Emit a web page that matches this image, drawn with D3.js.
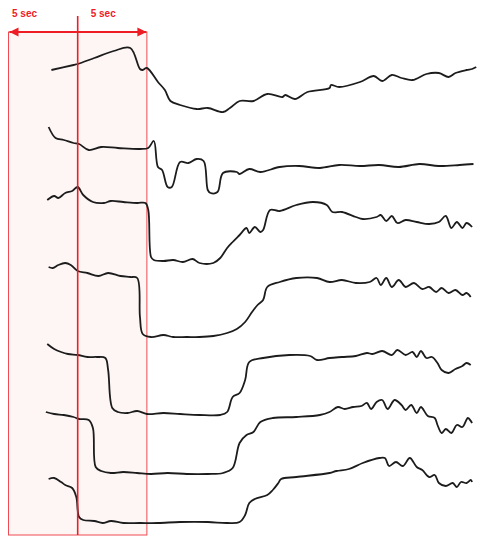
<!DOCTYPE html>
<html>
<head>
<meta charset="utf-8">
<script src="https://cdn.jsdelivr.net/npm/d3@7"></script>
<style>
  body { margin: 0; background: #fff; }
  svg { display: block; }
</style>
</head>
<body>
<div id="chart"></div>
<script>
// ---- DATA --------------------------------------------------------
// time in seconds (0 = red line), amplitude in arbitrary units above each trace's low level

var trace1 = [[-1.9,42],[-0.3,47],[0,48],[1.2,54],[2.6,61],[3.8,64],[4.5,43],[4.7,42],[5.0,44],[5.8,30],[6.3,22],[6.7,11],[7.4,7],[8.6,3],[9.4,4],[10.5,0],[11.0,4],[11.7,11],[12.7,11],[13.7,18],[14.8,15],[15.0,17],[15.7,13],[16.6,20],[18.2,24],[18.3,27],[18.9,25],[20.4,30],[21.4,36],[22.0,31],[22.7,37],[23.4,34],[24.2,32],[25.2,38],[26.1,39],[26.8,35],[27.3,39],[28.1,42],[28.5,43],[28.8,45]];

var trace2 = [[-2.1,66],[-1.6,55],[-1.0,53],[-0.3,50],[0.1,49],[0.8,43],[1.7,46],[2.9,45],[4.5,44],[5.1,45],[5.5,52],[5.8,26],[6.1,23],[6.5,6],[6.8,6],[7.4,31],[8.0,30],[8.6,34],[9.1,32],[9.4,3],[9.6,0],[10.1,1],[10.5,20],[11.5,21],[11.7,19],[12.4,24],[13.2,21],[14.6,26],[16.0,27],[17.5,25],[18.9,28],[20.4,27],[21.8,28],[23.2,26],[24.7,29],[26.1,27],[27.6,28],[28.6,29]];

var trace3 = [[-2.2,63],[-1.7,67],[-1.4,65],[-0.9,70],[-0.4,72],[0,76],[0.4,68],[1.1,61],[1.9,60],[2.4,62],[3.3,61],[4.3,60],[4.9,60],[5.1,53],[5.3,6],[5.5,3],[6.2,2],[6.9,3],[7.6,1],[8.3,4],[8.8,0],[9.8,0],[10.3,5],[10.8,15],[11.2,21],[11.7,28],[12.2,35],[12.4,30],[12.8,36],[13.2,31],[13.4,33],[13.9,53],[14.6,52],[15.8,58],[17.0,61],[18.0,58],[18.4,51],[19.1,51],[20.1,46],[20.6,44],[21.6,46],[21.9,48],[22.3,42],[22.7,47],[23.1,40],[23.7,43],[24.5,41],[25.4,39],[26.1,41],[26.6,47],[27.0,35],[27.4,41],[27.8,35],[28.1,40],[28.5,36]];

var trace4 = [[-2.1,70],[-1.8,69],[-1.4,72],[-0.9,74],[-0.5,72],[0,66],[0.7,64],[1.5,61],[2.2,64],[3.1,61],[3.8,60],[4.3,59],[4.5,20],[4.7,3],[5.3,0],[6.2,2],[6.9,0],[7.9,0],[8.8,0],[9.8,1],[10.8,4],[11.5,8],[12.1,15],[12.6,25],[13.0,32],[13.4,37],[13.7,50],[14.6,55],[15.8,59],[17.3,59],[18.2,55],[19.1,57],[20.1,54],[21.1,55],[21.6,59],[21.9,52],[22.3,59],[22.7,50],[23.2,57],[23.7,50],[24.3,54],[24.9,48],[25.4,50],[25.9,45],[26.3,49],[26.8,44],[27.3,47],[27.8,42],[28.1,44],[28.4,40]];

var trace5 = [[-2.2,71],[-1.7,66],[-1.2,63],[-0.7,61],[0,60],[0.7,58],[1.4,58],[2.0,57],[2.2,45],[2.5,7],[2.9,3],[3.6,2],[4.3,4],[5.0,1],[6.2,2],[7.4,1],[8.8,0],[10.3,0],[10.8,3],[11.2,18],[11.7,22],[12.1,35],[12.4,53],[13.4,57],[15.3,60],[16.8,59],[17.3,55],[18.2,57],[19.1,58],[20.1,59],[20.9,62],[21.3,61],[22.0,64],[22.7,60],[23.1,65],[23.7,60],[24.2,63],[24.5,58],[24.8,64],[25.2,57],[25.6,58],[26.0,52],[26.3,45],[26.8,42],[27.3,46],[27.8,49],[28.1,52],[28.4,50]];

var trace6 = [[-2.3,62],[-1.7,60],[-1.0,59],[-0.3,57],[0.1,55],[0.8,54],[1.1,46],[1.3,7],[1.7,3],[2.4,1],[3.3,2],[4.3,1],[5.3,0],[6.5,1],[7.9,0],[9.4,0],[10.5,1],[11.2,6],[11.7,31],[12.2,39],[12.7,42],[13.2,52],[14.1,56],[15.8,57],[17.5,59],[18.2,62],[18.8,67],[19.3,65],[19.9,67],[20.5,68],[20.9,71],[21.2,65],[21.6,72],[22.0,74],[22.4,65],[22.9,74],[23.4,69],[23.7,64],[24.1,69],[24.5,61],[24.8,67],[25.3,58],[25.8,56],[26.0,49],[26.3,41],[26.6,45],[27.0,41],[27.4,49],[27.8,47],[28.2,56],[28.5,51]];

var trace7 = [[-2.1,44],[-1.7,45],[-1.2,41],[-0.9,38],[-0.4,35],[-0.1,26],[0.1,6],[0.4,3],[1.2,2],[1.8,0],[2.4,2],[3.3,0],[4.5,0],[5.8,0],[7.4,1],[9.4,1],[10.8,0],[11.7,1],[12.1,8],[12.4,20],[12.8,24],[13.7,28],[14.1,33],[14.5,40],[14.7,44],[15.8,46],[18.2,50],[18.7,52],[19.6,54],[20.6,60],[21.8,65],[22.2,65],[22.5,57],[23.0,61],[23.5,57],[24.0,65],[24.5,56],[24.9,53],[25.4,46],[25.8,48],[26.1,40],[26.6,37],[27.1,40],[27.4,36],[27.7,41],[28.1,40],[28.4,43],[28.5,41]];

var traces = [trace1, trace2, trace3, trace4, trace5, trace6, trace7];

// stacking offset of each trace (same units as amplitude)
var traceOffsets = [438, 357, 287, 213, 135, 76, 27];

// highlighted window: two 5 sec segments around t = 0
var windowStart = -5;
var windowMid = 0;
var windowEnd = 5;
var segmentLabels = ["5 sec", "5 sec"];

// ---- VARIABLES ---------------------------------------------------

var w = 486;
var h = 550;
var red = "#ee1c25";

// ---- SCALES ------------------------------------------------------

var xScale = d3.scaleLinear()
  .domain([-5, 29])
  .range([8.5, 479]);

var yScale = d3.scaleLinear()
  .domain([0, 550])
  .range([550, 0]);

// ---- START BUILDING! ---------------------------------------------

var svg = d3.select("#chart")
  .append("svg")
  .attr("width", w)
  .attr("height", h);

var defs = svg.append("defs");
defs.append("marker")
  .attr("id", "arrowEnd")
  .attr("viewBox", "0 0 10 10")
  .attr("refX", 10)
  .attr("refY", 5)
  .attr("markerWidth", 4.5)
  .attr("markerHeight", 4.8)
  .attr("markerUnits", "strokeWidth")
  .attr("orient", "auto-start-reverse")
  .append("path")
  .attr("d", "M0,0 L10,5 L0,10 Z")
  .attr("fill", red);

var boxTop = 32;
var boxBottom = 535;

// shaded window
svg.append("rect")
  .attr("x", xScale(windowStart))
  .attr("y", boxTop)
  .attr("width", xScale(windowEnd) - xScale(windowStart))
  .attr("height", boxBottom - boxTop)
  .attr("fill", "#fef5f5")
  .attr("stroke", "#f04a52")
  .attr("stroke-width", 1);

// traces
var line = d3.line()
  .x(function(d) { return xScale(d[0]); })
  .y(function(d) { return d[1]; })
  .curve(d3.curveCatmullRom.alpha(0.5));

svg.selectAll(".trace")
  .data(traces)
  .enter()
  .append("path")
  .attr("class", "trace")
  .attr("d", function(d, i) {
    return line(d.map(function(p) {
      return [p[0], yScale(traceOffsets[i] + p[1])];
    }));
  })
  .attr("fill", "none")
  .attr("stroke", "#1c1c1c")
  .attr("stroke-width", 1.8)
  .attr("stroke-linejoin", "round");

// vertical line at t = 0
svg.append("line")
  .attr("x1", xScale(windowMid))
  .attr("x2", xScale(windowMid))
  .attr("y1", 16)
  .attr("y2", boxBottom)
  .attr("stroke", red)
  .attr("stroke-width", 1.6);

// double arrow
svg.append("line")
  .attr("x1", xScale(windowStart) + 1)
  .attr("x2", xScale(windowEnd) - 0.5)
  .attr("y1", boxTop)
  .attr("y2", boxTop)
  .attr("stroke", red)
  .attr("stroke-width", 2)
  .attr("marker-start", "url(#arrowEnd)")
  .attr("marker-end", "url(#arrowEnd)");

// labels
svg.selectAll(".seglabel")
  .data(segmentLabels)
  .enter()
  .append("text")
  .attr("class", "seglabel")
  .attr("x", function(d, i) {
    return i === 0 ? xScale(windowStart) + 3.5 : xScale(windowMid) + 13;
  })
  .attr("y", 17)
  .attr("font-family", "Liberation Sans, Arial, sans-serif")
  .attr("font-weight", "bold")
  .attr("font-size", "10px")
  .attr("fill", red)
  .text(function(d) { return d; });
</script>
</body>
</html>
